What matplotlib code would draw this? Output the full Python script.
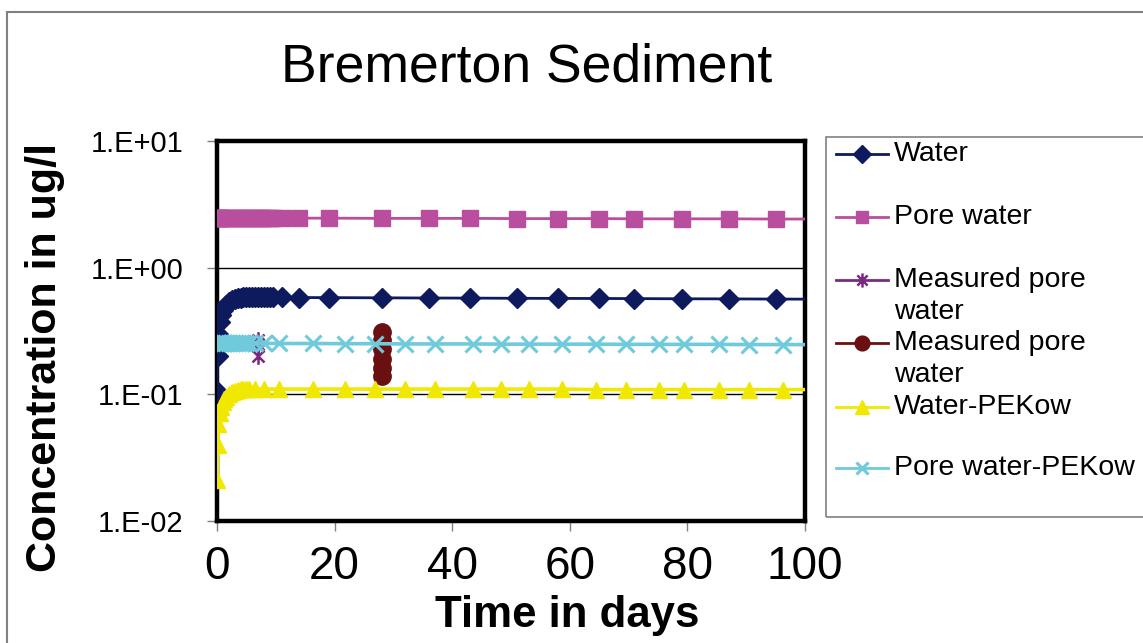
import matplotlib
matplotlib.use("Agg")
import matplotlib.pyplot as plt
from matplotlib.path import Path
from matplotlib.lines import Line2D
from matplotlib.patches import Rectangle
from matplotlib.ticker import FixedLocator, FixedFormatter

plt.rcParams['font.family'] = ['Liberation Sans', 'DejaVu Sans']

# ---- model output: water / pore water (days, ug/l)
t_model = [0, 0.1, 0.25, 0.5, 0.75, 1, 1.5, 2, 2.5, 3, 3.5, 4, 4.5, 5, 5.5, 6,
           6.5, 7, 7.5, 8, 8.5, 9, 9.5, 11, 14, 19, 28, 36, 43, 51, 58, 65,
           71, 79, 87, 95, 102]
water = [0.106, 0.20, 0.30, 0.37, 0.42, 0.46, 0.51, 0.54, 0.56, 0.57, 0.575,
         0.58, 0.582, 0.584, 0.585, 0.585, 0.585, 0.585, 0.585, 0.584, 0.584,
         0.583, 0.583, 0.582, 0.581, 0.58, 0.578, 0.576, 0.575, 0.573, 0.572,
         0.571, 0.570, 0.568, 0.567, 0.565, 0.564]
pore_water = [2.47, 2.47, 2.47, 2.47, 2.47, 2.47, 2.47, 2.47, 2.47, 2.47, 2.47,
              2.47, 2.47, 2.47, 2.47, 2.47, 2.47, 2.47, 2.47, 2.47, 2.47, 2.47,
              2.47, 2.46, 2.46, 2.46, 2.45, 2.45, 2.45, 2.44, 2.44, 2.44, 2.43,
              2.43, 2.43, 2.42, 2.42]

# ---- measured pore water
t_meas1 = [7, 7, 7, 7]
meas1 = [0.27, 0.25, 0.24, 0.20]
t_meas2 = [28, 28, 28, 28, 28, 28]
meas2 = [0.31, 0.27, 0.23, 0.19, 0.16, 0.14]

# ---- PE-Kow based estimates
t_pek = [0, 0.1, 0.25, 0.5, 0.75, 1, 1.25, 1.5, 2, 2.5, 3, 3.5, 4, 4.5, 5,
         5.5, 6.5, 8, 10.5, 16.3, 21.8, 26.9, 32, 37.1, 43.5, 48.3, 53.1,
         58.7, 64.5, 69.6, 75.2, 79.4, 85.4, 90.5, 96.3, 102]
water_pek = [0.021, 0.040, 0.058, 0.071, 0.080, 0.087, 0.092, 0.096, 0.101,
             0.105, 0.107, 0.109, 0.110, 0.110, 0.110, 0.110, 0.110, 0.110,
             0.110, 0.110, 0.110, 0.110, 0.110, 0.110, 0.110, 0.110, 0.110,
             0.110, 0.109, 0.109, 0.109, 0.109, 0.109, 0.109, 0.109, 0.109]
pore_pek = [0.256, 0.256, 0.256, 0.256, 0.256, 0.255, 0.255, 0.255, 0.255,
            0.255, 0.255, 0.254, 0.254, 0.254, 0.254, 0.254, 0.253, 0.253,
            0.252, 0.252, 0.251, 0.251, 0.250, 0.250, 0.250, 0.249, 0.249,
            0.249, 0.249, 0.248, 0.248, 0.248, 0.248, 0.247, 0.247, 0.247]

title = "Bremerton Sediment"
xlabel = "Time in days"
ylabel = "Concentration in ug/l"
x_ticks = [0, 20, 40, 60, 80, 100]
y_ticks = [1e-2, 1e-1, 1e0, 1e1]
y_ticklabels = ["1.E-02", "1.E-01", "1.E+00", "1.E+01"]
labels = ["Water", "Pore water", "Measured pore\nwater", "Measured pore\nwater",
          "Water-PEKow", "Pore water-PEKow"]

# Excel-like asterisk: a vertical stroke plus an x
asterisk = Path([(0, -1), (0, 1), (-0.72, -0.72), (0.72, 0.72), (-0.72, 0.72), (0.72, -0.72)],
                [Path.MOVETO, Path.LINETO, Path.MOVETO, Path.LINETO, Path.MOVETO, Path.LINETO])

styles = [
    dict(color="#0E1A5E", marker="D", ms=10.5, lw=2.0),
    dict(color="#B94E9F", marker="s", ms=11, lw=2.0),
    dict(color="#7A2A7E", marker=asterisk, ms=12, lw=1.5, mew=1.8),
    dict(color="#6B1010", marker="o", ms=12.5, lw=2.0),
    dict(color="#F0E800", marker="^", ms=12, lw=2.6),
    dict(color="#6FCADB", marker="x", ms=11, lw=2.6, mew=2.2),
]
series = [(t_model, water), (t_model, pore_water), (t_meas1, meas1),
          (t_meas2, meas2), (t_pek, water_pek), (t_pek, pore_pek)]

W, H = 1143, 643
fig = plt.figure(figsize=(W / 100, H / 100), dpi=100)
fig.patch.set_facecolor("white")


def fx(px):
    return px / W


def fy(py):
    return 1 - py / H


ax = fig.add_axes([fx(217), fy(521), fx(805) - fx(217), fy(141) - fy(521)])
ax.set_yscale("log")
ax.set_xlim(0, 100)
ax.set_ylim(1e-2, 1e1)

for (tx, vy), st in zip(series, styles):
    ax.plot(tx, vy, color=st["color"], lw=st["lw"], marker=st["marker"],
            ms=st["ms"], mew=st.get("mew", 1.0), mfc=st["color"],
            mec=st["color"], zorder=3)

ax.yaxis.set_major_locator(FixedLocator(y_ticks))
ax.yaxis.set_major_formatter(FixedFormatter(y_ticklabels))
ax.yaxis.set_minor_locator(FixedLocator([]))
ax.set_xticks(x_ticks)
ax.set_xticklabels([str(v) for v in x_ticks])
ax.grid(axis="y", which="major", color="black", lw=1.0, zorder=1)
ax.set_axisbelow(True)

for sp in ax.spines.values():
    sp.set_linewidth(3.2)
    sp.set_color("black")
    sp.set_zorder(2.5)

ax.tick_params(axis="y", direction="out", length=7, width=1, color="#808080",
               labelsize=21, pad=17)
ax.tick_params(axis="x", direction="out", length=7, width=1, color="#808080",
               labelsize=33, pad=10)

fig.text(fx(527), fy(68), title, fontsize=38.5, ha="center", va="center")
fig.text(fx(567), fy(615), xlabel, fontsize=31.5, fontweight="bold",
         ha="center", va="center")
fig.text(fx(45), fy(357), ylabel, fontsize=31, fontweight="bold",
         ha="center", va="center", rotation=90)

# outer chart-area border
fig.add_artist(Rectangle((fx(7), -0.2), 1.2, fy(12) + 0.2, transform=fig.transFigure,
                         fill=False, ec="#808080", lw=1.5))

# legend
fig.add_artist(Rectangle((fx(826), fy(517)), 1.0, fy(137) - fy(517),
                         transform=fig.transFigure, fill=False, ec="#808080", lw=1.2))
entry_y = [154, 217, 280, 343, 407, 468]
for lab, st, yy in zip(labels, styles, entry_y):
    fig.add_artist(Line2D([fx(836), fx(888)], [fy(yy), fy(yy)], transform=fig.transFigure,
                          color=st["color"], lw=2.0))
    fig.add_artist(Line2D([fx(862)], [fy(yy)], transform=fig.transFigure,
                          color=st["color"], marker=st["marker"], ms=st["ms"] * 0.85,
                          mew=st.get("mew", 1.0), mfc=st["color"], mec=st["color"]))
    for k, line in enumerate(lab.split("\n")):
        fig.text(fx(894), fy(yy + 32 * k), line, fontsize=20.5, ha="left",
                 va="center")

fig.savefig("out.png", dpi=100, facecolor="white")
